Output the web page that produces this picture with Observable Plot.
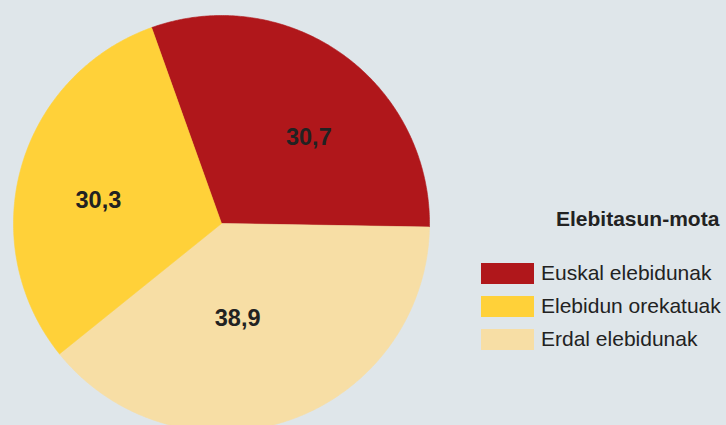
<!DOCTYPE html>
<html><head><meta charset="utf-8">
<script src="https://cdn.jsdelivr.net/npm/d3@7"></script>
<script src="https://cdn.jsdelivr.net/npm/@observablehq/plot@0.6"></script>
<style>
body{margin:0;background:#dfe6ea;font-family:"Liberation Sans",Arial,sans-serif;}
#wrap{position:relative;width:726px;height:425px;overflow:hidden;background:#dfe6ea;}
#wrap svg{position:absolute;left:0;top:0;background:transparent;}
.lg-title{position:absolute;left:556px;top:207px;font-weight:bold;font-size:21px;color:#222;white-space:nowrap;}
.lg-item{position:absolute;left:481px;height:21px;white-space:nowrap;font-size:21px;color:#222;}
.lg-sw{position:absolute;left:0;top:0;width:53px;height:21px;}
.lg-tx{position:absolute;left:60px;top:-2px;line-height:24px;}
</style></head><body><div id="wrap"></div>
<script>
// Legend order
const categories = ["Euskal elebidunak", "Elebidun orekatuak", "Erdal elebidunak"];
const values = [30.7, 30.3, 38.9];
const colors = ["#b0171b", "#ffd139", "#f7dea5"];
// Clockwise drawing order of the slices
const pieOrder = ["Euskal elebidunak", "Erdal elebidunak", "Elebidun orekatuak"];
const legendTitle = "Elebitasun-mota";

// layout
const R = 208, CX = 221, CY = 223, W = 726, H = 425;
const startDeg = -19.65;
// label placement nudges (pixels) relative to slice mid-angle position
const labelNudge = {"Euskal elebidunak": [17, 12], "Elebidun orekatuak": [-7, 10], "Erdal elebidunak": [-23, -19]};

const total = d3.sum(values);
const valOf = Object.fromEntries(categories.map((c, i) => [c, values[i]]));

const pts = [];
const labels = [];
let a = startDeg;
for (const c of pieOrder) {
  const v = valOf[c];
  const a0 = a, a1 = a + v / total * 360;
  pts.push({cat: c, x: 0, y: 0});
  const n = Math.ceil((a1 - a0) / 0.5);
  for (let k = 0; k <= n; k++) {
    const t = (a0 + (a1 - a0) * k / n) * Math.PI / 180;
    pts.push({cat: c, x: Math.sin(t), y: Math.cos(t)});
  }
  pts.push({cat: c, x: 0, y: 0});
  const m = ((a0 + a1) / 2) * Math.PI / 180;
  const [nx, ny] = labelNudge[c];
  labels.push({cat: c, x: 0.58 * Math.sin(m) + nx / R, y: 0.58 * Math.cos(m) - ny / R, text: String(v).replace(".", ",")});
  a = a1;
}

const chart = Plot.plot({
  width: W, height: H, margin: 0,
  x: {domain: [-CX / R, (W - CX) / R], axis: null},
  y: {domain: [-(H - CY) / R, CY / R], axis: null},
  color: {domain: categories, range: colors},
  style: {background: "transparent"},
  marks: [
    Plot.line(pts, {x: "x", y: "y", z: "cat", fill: "cat", stroke: "cat", strokeWidth: 0.6, curve: "linear"}),
    Plot.text(labels, {x: "x", y: "y", text: "text", fontSize: 23.5, fontWeight: "bold", fill: "#222", fontFamily: "Liberation Sans, Arial, sans-serif"})
  ]
});
const wrap = document.getElementById("wrap");
wrap.appendChild(chart);

const t = document.createElement("div");
t.className = "lg-title"; t.textContent = legendTitle; wrap.appendChild(t);
categories.forEach((c, i) => {
  const it = document.createElement("div");
  it.className = "lg-item";
  it.style.top = (263 + i * 33) + "px";
  const sw = document.createElement("div");
  sw.className = "lg-sw"; sw.style.background = colors[i];
  const tx = document.createElement("div");
  tx.className = "lg-tx"; tx.textContent = c;
  it.appendChild(sw); it.appendChild(tx);
  wrap.appendChild(it);
});
</script></body></html>
